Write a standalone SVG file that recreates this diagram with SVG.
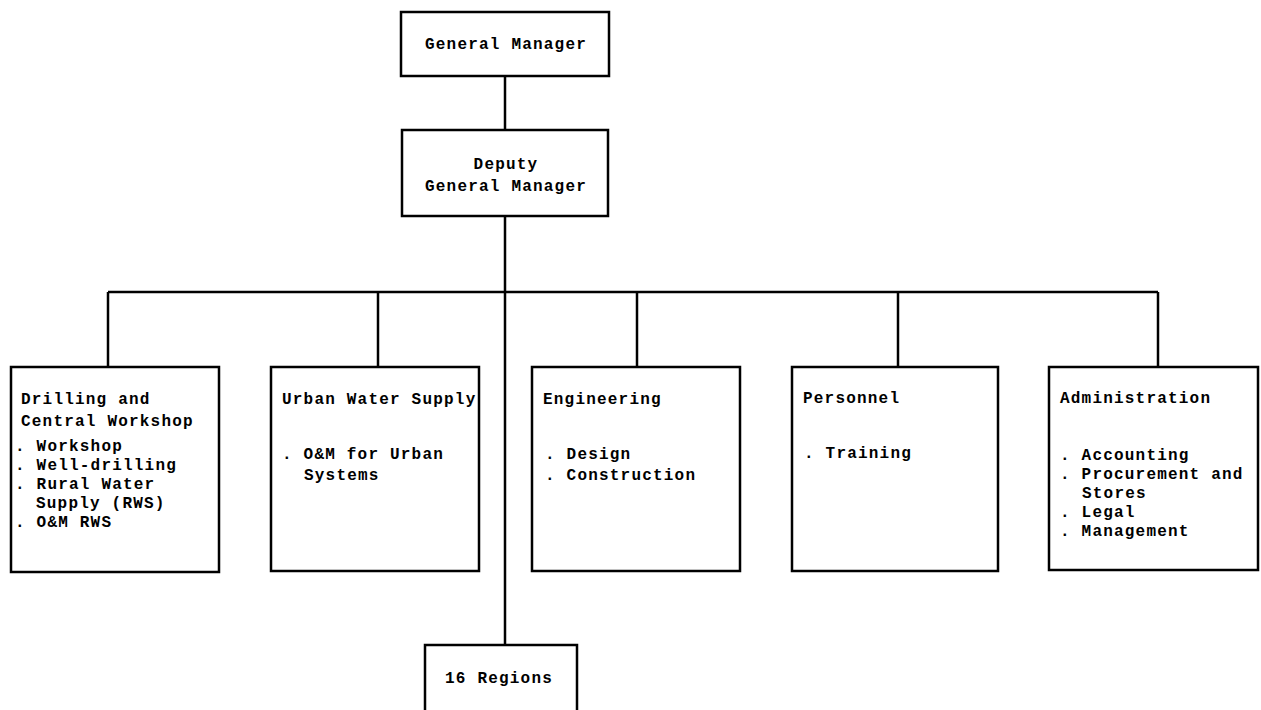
<svg xmlns="http://www.w3.org/2000/svg" width="1261" height="710" viewBox="0 0 1261 710">
<style>
.box{fill:#fff;stroke:#000;stroke-width:2.5}
.ln{fill:none;stroke:#000;stroke-width:2.5}
text{font-family:"Liberation Mono","DejaVu Sans Mono",monospace;font-size:16px;font-weight:bold;letter-spacing:1.2px;fill:#000}
.c{text-anchor:middle}
</style>
<rect width="1261" height="710" fill="#fff"/>
<g id="connectors">
<line class="ln" x1="505" y1="76" x2="505" y2="130"/>
<line class="ln" x1="505" y1="216" x2="505" y2="645"/>
<line class="ln" x1="108" y1="292" x2="1158" y2="292"/>
<line class="ln" x1="108" y1="292" x2="108" y2="367"/>
<line class="ln" x1="378" y1="292" x2="378" y2="367"/>
<line class="ln" x1="637" y1="292" x2="637" y2="367"/>
<line class="ln" x1="898" y1="292" x2="898" y2="367"/>
<line class="ln" x1="1158" y1="292" x2="1158" y2="367"/>
</g>
<g id="general-manager">
<rect class="box" x="401" y="12" width="208" height="64"/>
<text class="c" x="506" y="49">General Manager</text>
</g>
<g id="deputy-general-manager">
<rect class="box" x="402" y="130" width="206" height="86"/>
<text class="c" x="506" y="169">Deputy</text>
<text class="c" x="506" y="191">General Manager</text>
</g>
<g id="drilling">
<rect class="box" x="11" y="367" width="208" height="205"/>
<text x="21" y="404">Drilling and</text>
<text x="21" y="426">Central Workshop</text>
<text x="15" y="451">. Workshop</text>
<text x="15" y="470">. Well-drilling</text>
<text x="15" y="489">. Rural Water</text>
<text x="36" y="508">Supply (RWS)</text>
<text x="15" y="527">. O&amp;M RWS</text>
</g>
<g id="urban-water-supply">
<rect class="box" x="271" y="367" width="208" height="204"/>
<text x="282" y="404">Urban Water Supply</text>
<text x="282" y="459">. O&amp;M for Urban</text>
<text x="304" y="480">Systems</text>
</g>
<g id="engineering">
<rect class="box" x="532" y="367" width="208" height="204"/>
<text x="543" y="404">Engineering</text>
<text x="545" y="459">. Design</text>
<text x="545" y="480">. Construction</text>
</g>
<g id="personnel">
<rect class="box" x="792" y="367" width="206" height="204"/>
<text x="803" y="403">Personnel</text>
<text x="804" y="458">. Training</text>
</g>
<g id="administration">
<rect class="box" x="1049" y="367" width="209" height="203"/>
<text x="1060" y="403">Administration</text>
<text x="1060" y="460">. Accounting</text>
<text x="1060" y="479">. Procurement and</text>
<text x="1082" y="498">Stores</text>
<text x="1060" y="517">. Legal</text>
<text x="1060" y="536">. Management</text>
</g>
<g id="regions">
<rect class="box" x="425" y="645" width="152" height="80"/>
<text x="445" y="683">16 Regions</text>
</g>
</svg>
